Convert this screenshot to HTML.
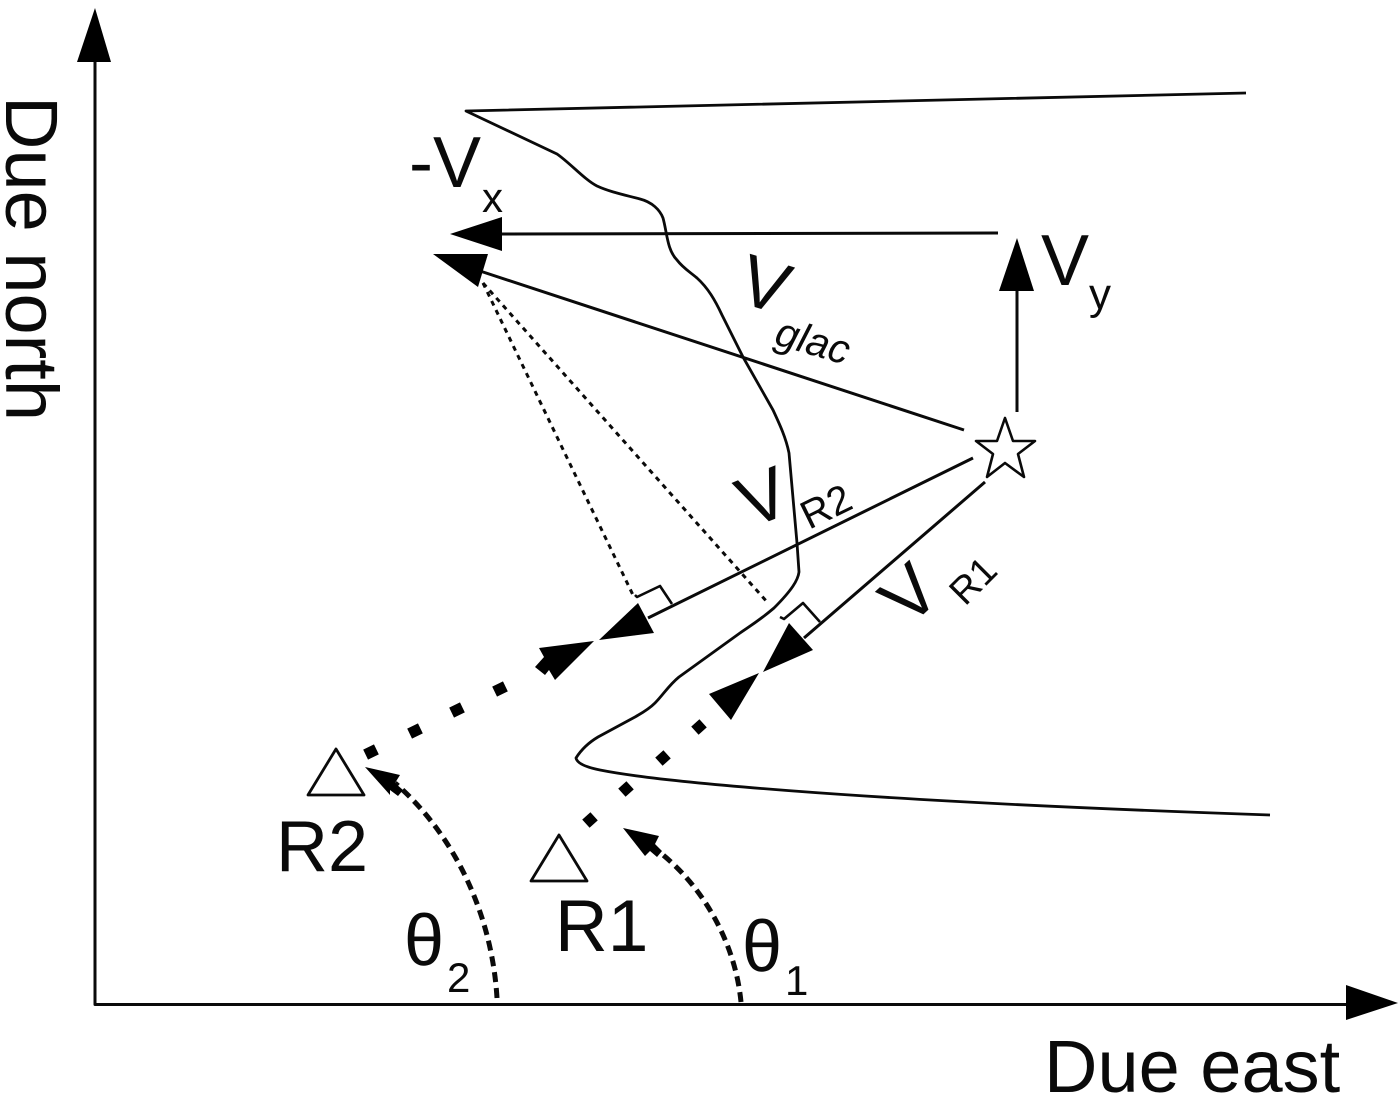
<!DOCTYPE html>
<html>
<head>
<meta charset="utf-8">
<style>
html,body{margin:0;padding:0;background:#fff}
svg{display:block}
text{font-family:"Liberation Sans",sans-serif;fill:#0a0a0a}
</style>
</head>
<body>
<svg width="1400" height="1099" viewBox="0 0 1400 1099" xmlns="http://www.w3.org/2000/svg">
<g fill="none" stroke="#0a0a0a" stroke-width="3" stroke-linejoin="round">
<!-- axes -->
<path d="M95 50V1004.5H1350"/>
<!-- glacier -->
<path d="M1246 93L466 111L557 154C570 163 585 180 597 186C610 192 625 195 640 199C652 202 660 210 663 218C667 232 667 250 677 260C683 268 690 272 697 278C708 288 715 300 722 315L743 357L773 410C780 425 786 438 789 453L797 543L799 572C798 580 792 590 774 608C760 620 750 626 740 633L679 677C669 685 663 695 655 703C648 710 640 714 635 717L598 737C588 743 581 750 576 758C577 763 585 767 600 770C650 780 830 800 1270 815" stroke-width="2.8"/>
<!-- vectors -->
<path d="M998 233L495 234"/>
<path d="M1017 412V285"/>
<path d="M964 430L480 271"/>
<path d="M973 458L648 618"/>
<path d="M985 482L804 638"/>
<!-- dotted perpendiculars -->
<path d="M483 283L633 595" stroke-dasharray="5 5" stroke-width="3"/>
<path d="M483 283L768 603" stroke-dasharray="5 5" stroke-width="3"/>
<!-- right angle marks -->
<path d="M635 595L637 597L660 586L672 604" stroke-width="2.6"/>
<path d="M780 617L784 619L803 603L820 622" stroke-width="2.6"/>
<!-- angle arcs -->
<path d="M497 998C492 915 455 835 395 783" stroke-width="5" stroke-dasharray="10 6"/>
<path d="M741 1002C735 940 700 880 650 845" stroke-width="5" stroke-dasharray="10 6"/>
<!-- triangles -->
<path d="M336 749L364 795H308Z" stroke-width="2.8"/>
<path d="M559 835L587 881H531Z" stroke-width="2.8"/>
<!-- star -->
<path d="M1005 418L1013 441L1035 441L1018 454L1024 477L1005 463L987 477L993 454L976 441L997 441Z" stroke-width="2.6"/>
</g>
<g fill="#000">
<path d="M95 8L77 62H111Z"/>
<path d="M1398 1003L1346 985V1020Z"/>
<path d="M450 234L502 217V251Z"/>
<path d="M1017 238L999 291H1034Z"/>
<path d="M433 254H488L478 287Z"/>
<path d="M599 640L638 603L654 633Z"/>
<path d="M594 641L539 648L544 657L535 667L545 675L549 670L555 680Z"/>
<path d="M763 672L789 623L813 650Z"/>
<path d="M759 673L709 694L731 720Z"/>
<path d="M365 767L400 775L395 783L403 790L398 796L390 790L390 795Z"/>
<path d="M623 828L659 836L655 844L662 851L657 857L650 851L645 856Z"/>
<!-- thick dots R2 -->
<rect x="-6" y="-5.5" width="12" height="11" transform="translate(371,752) rotate(-26)"/>
<rect x="-6" y="-5.5" width="12" height="11" transform="translate(415,731) rotate(-26)"/>
<rect x="-6" y="-5.5" width="12" height="11" transform="translate(457,710) rotate(-26)"/>
<rect x="-6" y="-5.5" width="12" height="11" transform="translate(500,689) rotate(-26)"/>
<!-- thick dots R1 -->
<rect x="-5.5" y="-5.5" width="11" height="11" transform="translate(590,820) rotate(-42)"/>
<rect x="-5.5" y="-5.5" width="11" height="11" transform="translate(626,789) rotate(-42)"/>
<rect x="-5.5" y="-5.5" width="11" height="11" transform="translate(663,758) rotate(-42)"/>
<rect x="-5.5" y="-5.5" width="11" height="11" transform="translate(699,727) rotate(-42)"/>
</g>
<text font-size="74" transform="translate(6,96) rotate(90)">Due north</text>
<text x="1044" y="1092" font-size="74">Due east</text>
<text x="409" y="187" font-size="72">-V</text>
<text x="482" y="212" font-size="42">x</text>
<text x="1041" y="285" font-size="72">V</text>
<text x="1089" y="309" font-size="44">y</text>
<text font-size="72" text-anchor="middle" transform="translate(758,308) rotate(17)">V</text>
<text font-size="41" font-style="italic" transform="translate(773,344) rotate(16)">glac</text>
<text font-size="72" text-anchor="middle" transform="translate(772,520) rotate(-22)">V</text>
<text font-size="40" transform="translate(809,530) rotate(-26)">R2</text>
<text font-size="72" text-anchor="middle" transform="translate(926,612) rotate(-43)">V</text>
<text font-size="38" transform="translate(965,607) rotate(-45)">R1</text>
<text x="276" y="871" font-size="72">R2</text>
<text x="555" y="951" font-size="73">R1</text>
<text x="404" y="965" font-size="72">θ</text>
<text x="447" y="992" font-size="42">2</text>
<text x="742" y="971" font-size="72">θ</text>
<text x="785" y="995" font-size="42">1</text>
</svg>
</body>
</html>
